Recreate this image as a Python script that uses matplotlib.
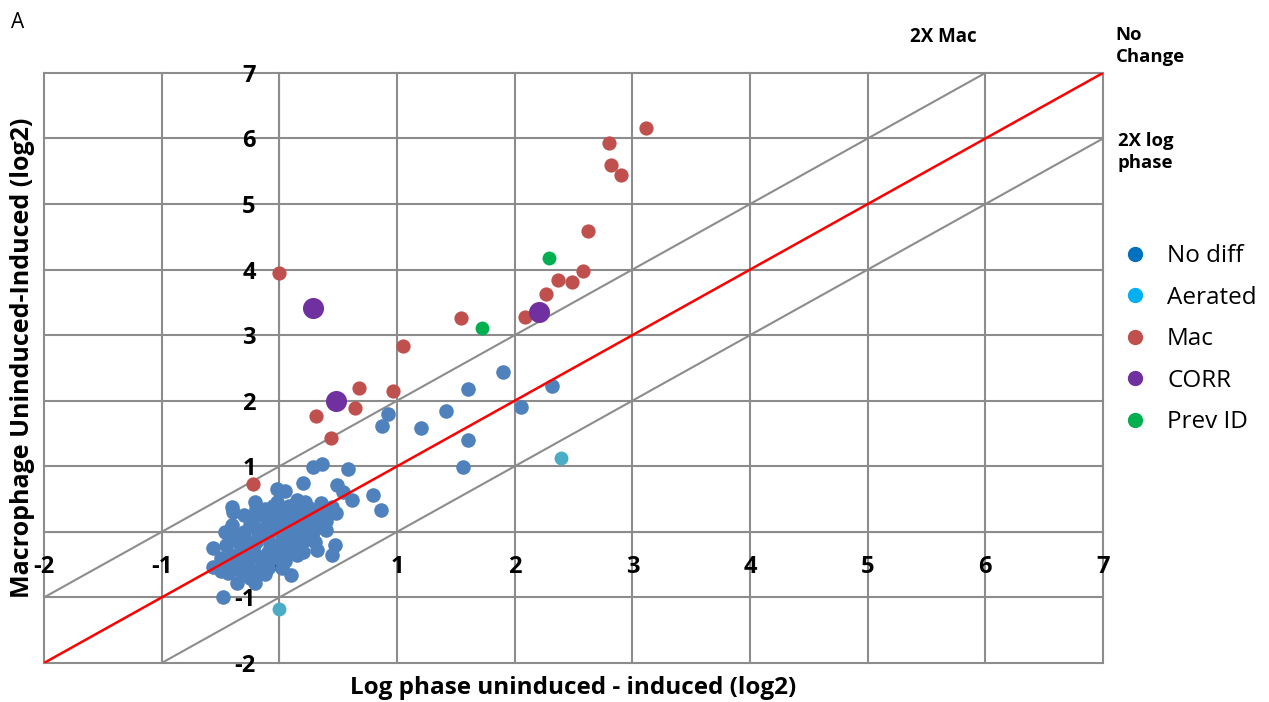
import matplotlib.pyplot as plt
from matplotlib.lines import Line2D

plt.rcParams['font.family'] = ['Open Sans', 'DejaVu Sans']
plt.rcParams['axes.unicode_minus'] = False

# no diff (blue)
nodiff_x = [1.90, 1.60, 2.32, 2.05, 1.42, 0.92, 0.87, 1.20, 1.60, 1.56,
            0.29, 0.36, 0.58, 0.20, -0.02, 0.05, 0.49, 0.54, 0.62, 0.80,
            0.86, -0.40, -0.39, -0.21, -0.46, -0.56, -0.56, -0.44, -0.36, -0.21,
            -0.10, 0.10, 0.07, 0.22, 0.32, 0.45, 0.47, 0.40, 0.45, 0.35,
            0.29, 0.15, 0.09, -0.48,
            -0.35, -0.30, -0.30, -0.25, -0.25, -0.20, -0.20, -0.15, -0.15, -0.10,
            -0.10, -0.05, -0.05, 0.00, 0.00, 0.05, 0.05, 0.10, 0.10, 0.15,
            0.15, 0.20, 0.25, 0.25, -0.40, -0.35, -0.40, -0.30, -0.10, 0.00,
            -0.05, -0.15, -0.25, 0.15, 0.30, -0.50, -0.30, 0.20, 0.05, -0.20,
            0.25, 0.37, 0.42, 0.48, 0.40, 0.32, 0.13, 0.22, 0.35, 0.28,
            -0.45, -0.38, -0.33, -0.28, -0.22, -0.18, -0.12, -0.08, -0.02, 0.02,
            0.08, 0.12, 0.18, -0.42, -0.32, -0.26, -0.16, -0.06, 0.04, 0.14,
            -0.50, -0.12, -0.02, 0.08, 0.18, 0.30, 0.38, -0.22, -0.30, 0.02]
nodiff_y = [2.44, 2.18, 2.23, 1.91, 1.85, 1.80, 1.62, 1.58, 1.40, 0.99,
            0.99, 1.04, 0.96, 0.75, 0.65, 0.62, 0.72, 0.61, 0.49, 0.56,
            0.33, 0.38, 0.30, 0.46, 0.00, -0.25, -0.54, -0.63, -0.78, -0.78,
            -0.55, -0.66, -0.31, -0.12, -0.28, -0.35, -0.20, 0.03, 0.38, 0.44,
            0.29, 0.49, 0.33, -1.00,
            -0.45, -0.30, -0.10, 0.10, -0.55, -0.35, -0.15, 0.05, 0.25, -0.30,
            -0.05, 0.15, 0.40, -0.20, 0.05, 0.25, -0.45, 0.00, 0.15, -0.15,
            0.30, 0.10, -0.05, 0.20, -0.35, -0.15, 0.10, 0.25, 0.20, 0.30,
            -0.40, -0.45, -0.70, -0.35, 0.05, -0.40, -0.60, -0.30, -0.10, 0.35,
            0.37, 0.35, 0.32, 0.28, 0.17, 0.15, 0.40, 0.45, 0.10, -0.05,
            -0.20, -0.05, -0.62, -0.45, -0.25, -0.05, -0.65, -0.18, -0.35, -0.08,
            -0.25, 0.08, 0.20, -0.50, -0.20, -0.40, -0.60, 0.05, 0.12, 0.02,
            -0.60, 0.35, 0.45, 0.40, -0.05, -0.15, 0.20, 0.20, 0.00, -0.55]

aerated_x = [2.39, 0.00]
aerated_y = [1.13, -1.17]

mac_x = [0.00, -0.22, 0.31, 0.44, 0.64, 0.68, 0.97, 1.05, 1.54, 2.09,
         2.27, 2.37, 2.49, 2.58, 2.62, 2.80, 2.82, 2.90, 3.12]
mac_y = [3.95, 0.73, 1.77, 1.43, 1.89, 2.19, 2.15, 2.83, 3.26, 3.28,
         3.63, 3.84, 3.81, 3.98, 4.59, 5.93, 5.60, 5.44, 6.16]

corr_x = [0.29, 0.48, 2.21]
corr_y = [3.42, 2.00, 3.35]

prev_x = [2.29, 1.72]
prev_y = [4.18, 3.11]

ticks = list(range(-2, 8))

fig = plt.figure(figsize=(12.69, 7.02), dpi=100)
ax = fig.add_axes([0.0347, 0.0556, 0.8345, 0.8405])
ax.set_xlim(-2, 7)
ax.set_ylim(-2, 7)

grid_c = '#8c8c8c'
for t in ticks:
    ax.axvline(t, color=grid_c, lw=1.5, zorder=1, clip_on=False)
    ax.axhline(t, color=grid_c, lw=1.5, zorder=1, clip_on=False)

# reference lines
ax.plot([-2, 6], [-1, 7], color=grid_c, lw=1.5, zorder=2)
ax.plot([-1, 7], [-2, 6], color=grid_c, lw=1.5, zorder=2)

ax.scatter(nodiff_x, nodiff_y, s=110, color='#4F81BD', zorder=3, linewidths=0)
ax.plot([-2, 7], [-2, 7], color='red', lw=1.8, zorder=4)
ax.scatter(aerated_x, aerated_y, s=100, color='#4BACC6', zorder=5, linewidths=0)
ax.scatter(mac_x, mac_y, s=105, color='#C0504D', zorder=5, linewidths=0)
ax.scatter(corr_x, corr_y, s=230, color='#7030A0', zorder=6, linewidths=0)
ax.scatter(prev_x, prev_y, s=100, color='#00B050', zorder=6, linewidths=0)

for s in ['top', 'right']:
    ax.spines[s].set_visible(False)
ax.spines['left'].set_position(('data', 0))
ax.spines['bottom'].set_position(('data', 0))
ax.spines['left'].set_color(grid_c)
ax.spines['bottom'].set_color(grid_c)
ax.set_xticks(ticks)
ax.set_yticks(ticks)
ax.tick_params(length=0, pad=17, labelsize=17)
for lab in ax.get_xticklabels() + ax.get_yticklabels():
    lab.set_fontweight('bold')

fig.text(0.452, 0.02, 'Log phase uninduced - induced (log2)', ha='center', va='center',
         fontsize=17.5, fontweight='bold')
fig.text(0.018, 0.49, 'Macrophage Uninduced-Induced (log2)', ha='center', va='center',
         rotation=90, fontsize=18, fontweight='bold')

fig.text(0.009, 0.968, 'A', fontsize=15, va='center')
fig.text(0.743, 0.947, '2X Mac', fontsize=13.5, fontweight='bold', ha='center', va='center')
fig.text(0.879, 0.935, 'No\nChange', fontsize=13.3, fontweight='bold', ha='left', va='center',
         linespacing=1.3)
fig.text(0.881, 0.784, '2X log\nphase', fontsize=13.3, fontweight='bold', ha='left', va='center',
         linespacing=1.3)

leg_labels = ['No diff', 'Aerated', 'Mac', 'CORR', 'Prev ID']
leg_colors = ['#0070C0', '#00B0F0', '#C0504D', '#7030A0', '#00B050']
handles = [Line2D([], [], marker='o', ls='', markersize=10, color=c) for c in leg_colors]
fig.legend(handles, leg_labels, loc='upper left', bbox_to_anchor=(0.866, 0.683),
           frameon=False, fontsize=17.5, labelspacing=0.72, handletextpad=0.7,
           handlelength=1.2)

fig.savefig('out.png', dpi=100)
